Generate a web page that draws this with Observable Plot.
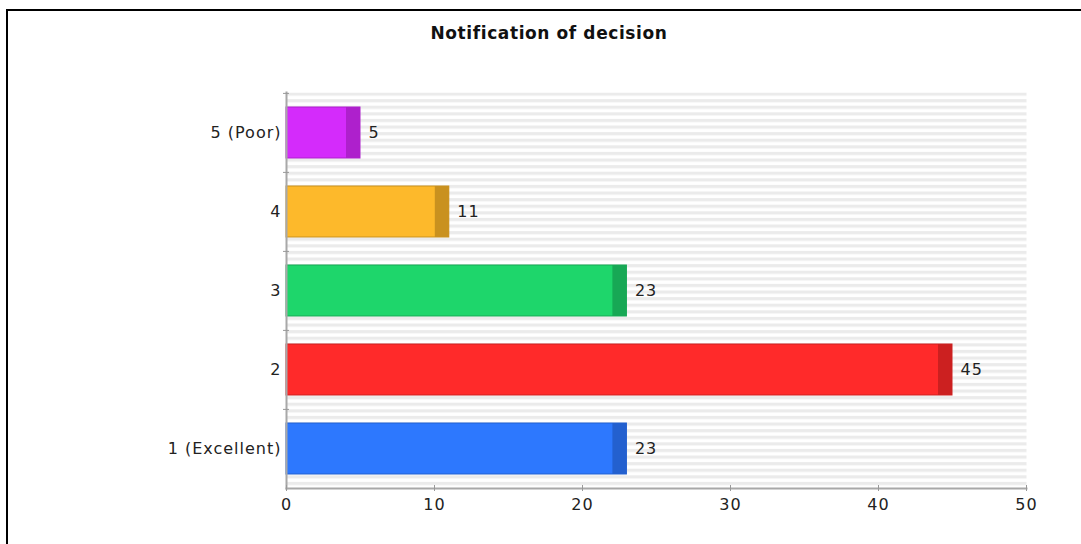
<!DOCTYPE html>
<html><head><meta charset="utf-8">
<script src="https://cdn.jsdelivr.net/npm/d3@7"></script>
<script src="https://cdn.jsdelivr.net/npm/@observablehq/plot@0.6"></script>
<style>
body{margin:0;background:#fff;font-family:"DejaVu Sans",sans-serif}
#wrap{position:relative;width:1081px;height:544px;overflow:hidden;background:#fff}
#border{position:absolute;left:6px;top:9px;width:1200px;height:700px;border-left:2px solid #000;border-top:2px solid #000}
#title{position:absolute;top:22px;left:0;width:1098px;text-align:center;font-weight:bold;font-size:17px;letter-spacing:0.6px;color:#111;line-height:22px}
#chart{position:absolute;left:0;top:0}
#chart svg text{letter-spacing:1px}
</style></head>
<body><div id="wrap"><div id="border"></div><div id="title">Notification of decision</div><div id="chart"></div></div>
<script>
const categories = ["5 (Poor)", "4", "3", "2", "1 (Excellent)"];
const values = [5, 11, 23, 45, 23];
const colors = ["#d42bfb", "#fdb92b", "#1ed66b", "#ff2a2a", "#2d78fe"];
const darkColors = ["#ae20cc", "#c9911f", "#17a855", "#cc2020", "#2360cf"];
const xTicks = [0, 10, 20, 30, 40, 50];

const data = categories.map((c, i) => ({category: c, value: values[i], color: colors[i], dark: darkColors[i]}));

const chart = Plot.plot({
  width: 1081,
  height: 544,
  marginLeft: 286,
  marginRight: 55,
  marginTop: 92,
  marginBottom: 56,
  style: {fontFamily: "DejaVu Sans", fontSize: "16px", background: "transparent"},
  x: {domain: [0, 50], label: null},
  y: {domain: categories, paddingInner: 0.36, paddingOuter: 0.18, label: null},
  color: {type: "identity"},
  marks: [
    Plot.frame({fill: "url(#stripes)", stroke: null}),
    Plot.barX(data, {y: "category", x: "value", fill: "color", stroke: "dark", strokeWidth: 1}),
    Plot.barX(data, {y: "category", x1: "value", x2: "value", insetLeft: -14, fill: "dark"}),
    Plot.text(data, {y: "category", x: "value", text: d => String(d.value), dx: 8, textAnchor: "start", fill: "#222", fontSize: 16}),
    Plot.frame({anchor: "bottom", stroke: "#a8a8a8", strokeWidth: 2}),
    Plot.frame({anchor: "left", stroke: "#a8a8a8", strokeWidth: 2}),
    Plot.axisX({ticks: xTicks, tickSize: 6, dy: -3, text: null, stroke: "#999", label: null}),
    Plot.axisX({ticks: xTicks, tickSize: 0, tickPadding: 10, fill: "#222", fontSize: 16, label: null}),
    Plot.axisY({tickSize: 6, dx: 3, dy: -39.6, text: null, stroke: "#999", label: null}),
    Plot.axisY({tickSize: 0, tickPadding: 5, fill: "#222", fontSize: 16, label: null})
  ]
});

const defs = document.createElementNS("http://www.w3.org/2000/svg", "defs");
defs.innerHTML = '<pattern id="stripes" patternUnits="userSpaceOnUse" x="0" y="92" width="8" height="6.6"><rect width="8" height="6.6" fill="#ffffff"/><rect y="0" width="8" height="3.2" fill="#ebebeb"/></pattern>';
chart.insertBefore(defs, chart.firstChild);
document.getElementById("chart").appendChild(chart);
</script>
</body></html>
